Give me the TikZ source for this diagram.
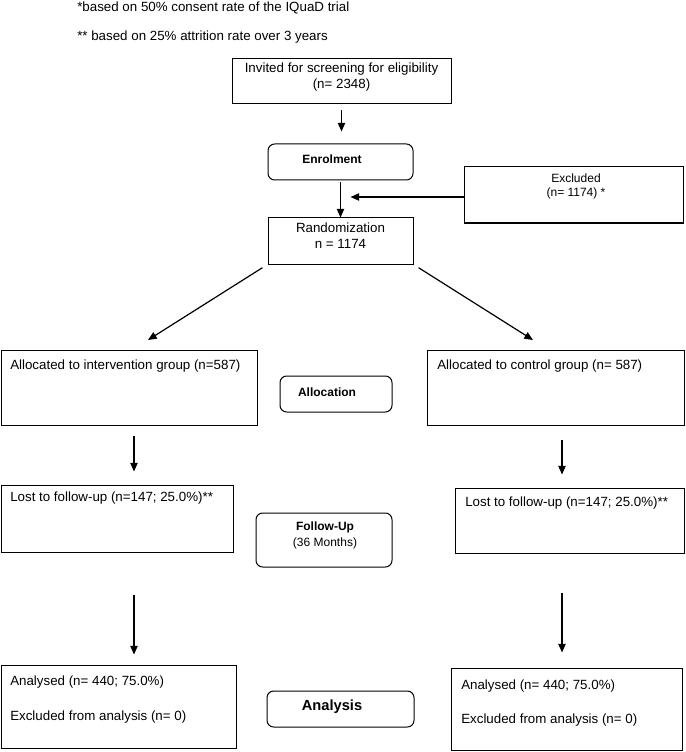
\documentclass[tikz,border=0pt]{standalone}
\usepackage{fontspec}
\setmainfont{Liberation Sans}
\usetikzlibrary{fit,arrows.meta}
\tikzset{
  box/.style={draw=black, line width=0.75pt, inner sep=0pt, align=center, font=\fontsize{10}{12}\selectfont},
  rbox/.style={box, rounded corners=5pt},
  txt/.style={inner sep=0pt, anchor=west, font=\fontsize{10}{12}\selectfont},
  ctxt/.style={inner sep=0pt, align=center},
  arr/.style={-{Triangle[length=6.5pt,width=5.5pt]}, line width=0.9pt}
}
\begin{document}
\begin{tikzpicture}[x=0.75pt,y=-0.75pt]
\useasboundingbox (0,0) rectangle (685,752);
% notes
\node[txt] (n1) at (77,8) {*based on 50\% consent rate of the IQuaD trial};
\node[txt] (n2) at (77,37) {** based on 25\% attrition rate over 3 years};
% top part
\node[box, fit={(232,59) (451,104)}] (inv) {Invited for screening for eligibility\\(n= 2348)};
\node[rbox, fit={(268,144) (413,180)}] (enrol) {};
\node[ctxt, font=\bfseries\fontsize{9}{10}\selectfont] (enrolt) at (332,159) {Enrolment};
\node[box, fit={(464,167) (683,223)}] (excl) {};
\node[ctxt, font=\fontsize{9}{10.5}\selectfont] (exclt) at (576,186) {Excluded\\(n= 1174) *};
\node[box, fit={(268,218) (413,264)}] (rand) {Randomization\\n = 1174};
\draw[arr, shorten <=4.5pt, shorten >=9pt] (inv.south) -- (inv.south |- enrol.north);
\draw[arr, shorten <=1.5pt] (enrol.south) -- (rand.north);
\coordinate (ex) at (464,197);
\draw[arr, shorten >=7.5pt] (ex) -- (ex -| enrol.south);
% allocation
\coordinate (dl) at (148,340);
\coordinate (dr) at (533,340);
\node[box, fit={(1,350) (257,425)}] (allocL) {};
\node[box, fit={(427,350) (684,425)}] (allocR) {};
\node[rbox, fit={(280,376) (392,412)}] (alloc) {};
\node[ctxt, font=\bfseries\fontsize{9}{10}\selectfont] (alloct) at (327,392) {Allocation};
\node[txt] (allocLt) at (10,366) {Allocated to intervention group (n=587)};
\node[txt] (allocRt) at (437,366) {Allocated to control group (n= 587)};
\draw[arr, shorten <=4.5pt] (rand.south west) -- (dl);
\draw[arr, shorten <=4.5pt] (rand.south east) -- (dr);
% follow-up
\node[box, fit={(1,485) (233,552)}] (lostL) {};
\node[box, fit={(455,488) (684,553)}] (lostR) {};
\node[rbox, fit={(256,513) (392,567)}] (fu) {};
\node[ctxt, font=\fontsize{9}{12}\selectfont] (fut) at (325,535) {\textbf{Follow-Up}\\(36 Months)};
\node[txt] (lostLt) at (10,498) {Lost to follow-up (n=147; 25.0\%)**};
\node[txt] (lostRt) at (465,503) {Lost to follow-up (n=147; 25.0\%)**};
\coordinate (a1) at (134,425);
\coordinate (a2) at (562,425);
\draw[arr, shorten <=8.25pt, shorten >=9.75pt] (a1) -- (a1 |- lostL.north);
\draw[arr, shorten <=11.25pt, shorten >=9.75pt] (a2) -- (a2 |- lostR.north);
% analysis
\node[box, fit={(1,665) (236,748)}] (anL) {};
\node[box, fit={(451,668) (682,750)}] (anR) {};
\node[rbox, fit={(267,691) (414,727)}] (an) {};
\node[ctxt, font=\bfseries\fontsize{11}{12}\selectfont] (ant) at (332,707) {Analysis};
\node[txt] (anL1) at (10,682) {Analysed (n= 440; 75.0\%)};
\node[txt] (anL2) at (10,717) {Excluded from analysis (n= 0)};
\node[txt] (anR1) at (461,686) {Analysed (n= 440; 75.0\%)};
\node[txt] (anR2) at (461,720) {Excluded from analysis (n= 0)};
\coordinate (b1) at (134,552);
\coordinate (b2) at (562,553);
\draw[arr, shorten <=32.25pt, shorten >=7.5pt] (b1) -- (b1 |- anL.north);
\draw[arr, shorten <=30pt, shorten >=11.25pt] (b2) -- (b2 |- anR.north);
\end{tikzpicture}
\end{document}
